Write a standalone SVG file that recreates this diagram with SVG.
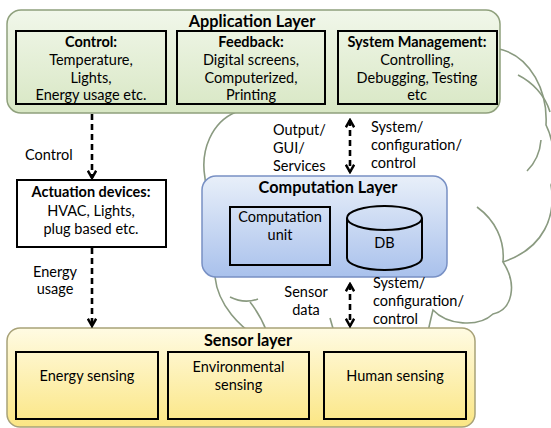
<svg xmlns="http://www.w3.org/2000/svg" width="551" height="428" viewBox="0 0 551 428">
<defs>
<linearGradient id="gApp" x1="0" y1="0" x2="0" y2="1"><stop offset="0" stop-color="#f1f7ea"/><stop offset="1" stop-color="#d8e7c4"/></linearGradient>
<linearGradient id="gComp" x1="0" y1="0" x2="0" y2="1"><stop offset="0" stop-color="#e8eff9"/><stop offset="1" stop-color="#a9c1ec"/></linearGradient>
<linearGradient id="gSens" x1="0" y1="0" x2="0" y2="1"><stop offset="0" stop-color="#fffbe3"/><stop offset="1" stop-color="#fbe684"/></linearGradient>
<marker id="ah" viewBox="0 0 10 10" refX="8" refY="5" markerWidth="4" markerHeight="4" orient="auto-start-reverse" markerUnits="strokeWidth">
<path d="M1,1 L8,5 L1,9" fill="none" stroke="#000" stroke-width="2.4"/>
</marker>
</defs>
<style>
text{font-family:Lato,"Liberation Sans",sans-serif;font-size:14.5px;fill:#000}
.b{font-weight:bold}
.t{font-weight:bold;font-size:16.3px}
.c{text-anchor:middle}
.layer{stroke-width:1.5}
.box{fill:none;stroke:#000;stroke-width:2}
.cl{fill:none;stroke:#8a9a80;stroke-width:1.6}
.conn{fill:none;stroke:#000;stroke-width:2.6;stroke-dasharray:6 4;marker-end:url(#ah)}
.dbl{marker-start:url(#ah)}
</style>
<g id="cloud">
<path d="M262,340 C240,328 218,305 215,277 L205,178 C200,150 212,122 236,112 C245,75 300,52 345,62 C390,40 460,38 503,50 C530,58 548,90 546,125 C556,145 556,175 551,185 C556,215 545,248 503,262 C518,285 512,310 493,314 C478,328 447,325 433,310 C430,322 428,332 426,340 Z" fill="#fff" stroke="#8a9a80" stroke-width="1.6"/>
<path class="cl" d="M518,75 C532,82 545,95 550,112"/>
<path class="cl" d="M541,140 C540,153 535,163 527,171"/>
<path class="cl" d="M477,207 C495,220 505,240 503,262"/>
<path class="cl" d="M230,297 C240,302 250,302 258,299"/>
<path class="cl" d="M250,302 C258,312 263,322 267,332"/>
<path class="cl" d="M330,318 L334,332"/>
</g>
<g id="application-layer">
<rect x="7" y="10" width="493" height="103" rx="14" fill="url(#gApp)" stroke="#8fa07c" class="layer"/>
<text x="252" y="27" class="t c">Application Layer</text>
</g>
<g id="control">
<rect x="16" y="31" width="150" height="73" class="box"/>
<text x="91" y="47" class="b c">Control:</text>
<text x="91" y="65" class="c">Temperature,</text>
<text x="91" y="83" class="c">Lights,</text>
<text x="91" y="100" class="c">Energy usage etc.</text>
</g>
<g id="feedback">
<rect x="177" y="31" width="148" height="73" class="box"/>
<text x="251" y="47" class="b c">Feedback:</text>
<text x="251" y="65" class="c">Digital screens,</text>
<text x="251" y="83" class="c">Computerized,</text>
<text x="251" y="100" class="c">Printing</text>
</g>
<g id="system-management">
<rect x="338" y="31" width="159" height="73" class="box"/>
<text x="417" y="47" class="b c">System Management:</text>
<text x="417" y="65" class="c">Controlling,</text>
<text x="417" y="83" class="c">Debugging, Testing</text>
<text x="417" y="100" class="c">etc</text>
</g>
<g id="actuation-devices">
<rect x="17" y="180" width="149" height="67" fill="#fff" stroke="#000" stroke-width="2"/>
<text x="91" y="197" class="b c">Actuation devices:</text>
<text x="91" y="216" class="c">HVAC, Lights,</text>
<text x="91" y="234" class="c">plug based etc.</text>
</g>
<g id="computation-layer">
<rect x="202" y="176" width="245" height="101" rx="14" fill="url(#gComp)" stroke="#7890c4" class="layer"/>
<text x="328" y="193" class="t c">Computation Layer</text>
</g>
<g id="computation-unit">
<rect x="230" y="207" width="100" height="58" class="box"/>
<text x="280" y="222" class="c">Computation</text>
<text x="280" y="240" class="c">unit</text>
</g>
<g id="db">
<path d="M347,218 L347,258 A37.5,12 0 0 0 422,258 L422,218" class="box"/>
<ellipse cx="384.5" cy="218" rx="37.5" ry="12" class="box"/>
<text x="384.5" y="248" class="c">DB</text>
</g>
<g id="sensor-layer">
<rect x="7" y="328" width="468" height="99" rx="13" fill="url(#gSens)" stroke="#a8a278" class="layer"/>
<text x="248" y="346" class="t c">Sensor layer</text>
</g>
<g id="energy-sensing">
<rect x="16" y="352" width="142" height="67" class="box"/>
<text x="87" y="381" class="c">Energy sensing</text>
</g>
<g id="environmental-sensing">
<rect x="168" y="352" width="141" height="67" class="box"/>
<text x="238.5" y="372" class="c">Environmental</text>
<text x="238.5" y="390" class="c">sensing</text>
</g>
<g id="human-sensing">
<rect x="324" y="352" width="142" height="67" class="box"/>
<text x="395" y="381" class="c">Human sensing</text>
</g>
<g id="connectors">
<line x1="92" y1="114" x2="92" y2="178" class="conn"/>
<line x1="92" y1="248" x2="92" y2="326" class="conn"/>
<line x1="350" y1="120" x2="350" y2="172" class="conn dbl"/>
<line x1="350" y1="284" x2="350" y2="326" class="conn dbl"/>
<text x="25" y="160">Control</text>
<text x="55" y="277" class="c">Energy</text>
<text x="55" y="294" class="c">usage</text>
<text x="273" y="135">Output/</text>
<text x="273" y="153">GUI/</text>
<text x="273" y="171">Services</text>
<text x="371" y="132">System/</text>
<text x="371" y="150">configuration/</text>
<text x="371" y="168">control</text>
<text x="306" y="297" class="c">Sensor</text>
<text x="306" y="315" class="c">data</text>
<text x="373" y="288">System/</text>
<text x="373" y="306">configuration/</text>
<text x="373" y="324">control</text>
</g>
</svg>
